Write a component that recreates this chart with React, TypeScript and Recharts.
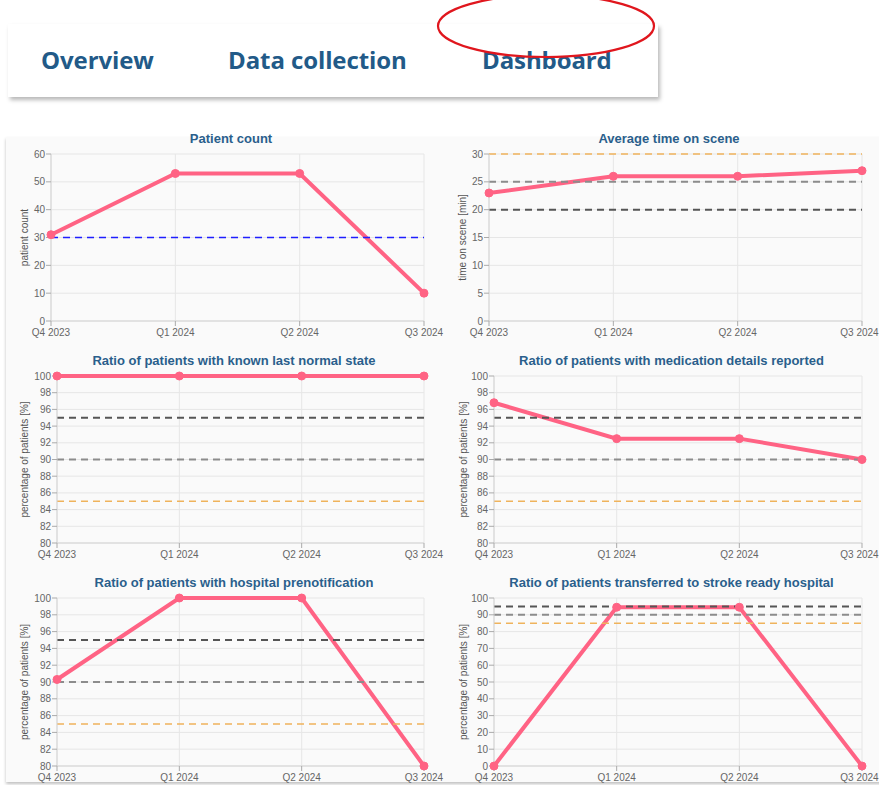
import React from "react";
import { CartesianGrid, Label, Line, LineChart, ReferenceLine, XAxis, YAxis } from "recharts";

const quarters = ["Q4 2023", "Q1 2024", "Q2 2024", "Q3 2024"];

const patientCount = [31, 53, 53, 10];
const timeOnScene = [23, 26, 26, 27];
const lastNormalState = [100, 100, 100, 100];
const medicationReported = [96.8, 92.5, 92.5, 90];
const prenotification = [90.3, 100, 100, 80];
const strokeReadyTransfer = [0, 94.5, 94.5, 0];

const countTicks = [0, 10, 20, 30, 40, 50, 60];
const minuteTicks = [0, 5, 10, 15, 20, 25, 30];
const narrowRatioTicks = [80, 82, 84, 86, 88, 90, 92, 94, 96, 98, 100];
const wideRatioTicks = [0, 10, 20, 30, 40, 50, 60, 70, 80, 90, 100];

const patientTarget = [30];
const timeTargets = [20, 25, 30];
const ratioTargets = [95, 90, 85];

const navItems = ["Overview", "Data collection", "Dashboard"];

const PAGE_W = 879;
const PINK = "#ff6384";
const TICK = { fontSize: 10, fill: "#666", fontFamily: "Liberation Sans, Arial, sans-serif" };
// dark / grey / orange threshold lines, same order as the target arrays
const targetStyles = [
  { stroke: "#555", strokeWidth: 2 },
  { stroke: "#8c8c8c", strokeWidth: 2 },
  { stroke: "#efb35c", strokeWidth: 1.5 },
];
const blueTarget = { stroke: "#1f1fff", strokeWidth: 1.5 };

type Frame = { x0: number; x1: number; y0: number; y1: number; labelX: number };

type PanelProps = {
  title: string;
  yLabel: string;
  values: number[];
  ticks: number[];
  targets: number[];
  targetLook: { stroke: string; strokeWidth: number }[];
  frame: Frame;
};

const Y_W = 36;
const PAD_L = 56;
const PAD_R = 22;
const PAD_T = 28;
const PAD_B = 26;

function Panel({ title, yLabel, values, ticks, targets, targetLook, frame }: PanelProps) {
  const data = quarters.map((q, i) => ({ quarter: q, value: values[i] }));
  const w = frame.x1 - frame.x0 + PAD_L + PAD_R;
  const h = frame.y1 - frame.y0 + PAD_T + PAD_B;
  const left = frame.x0 - PAD_L;
  const top = frame.y0 - PAD_T;
  const labelOffset = frame.labelX - (frame.x0 - Y_W);

  // keep the last quarter label inside the page on the right column
  const renderXTick = (p: any) => {
    const half = 18.5;
    const room = PAGE_W - 1 - left - (p.x + half);
    const x = room < 0 ? p.x + room : p.x;
    return (
      <text x={x} y={p.y} dy="0.71em" textAnchor="middle" {...TICK}>
        {p.payload.value}
      </text>
    );
  };

  return (
    <>
      <div
        style={{
          position: "absolute",
          left: 0,
          width: 2 * ((frame.x0 + frame.x1) / 2 - 6.5),
          top: frame.y0 - 23,
          textAlign: "center",
          font: "bold 13px 'Liberation Sans', Arial, sans-serif",
          color: "#2a5f8c",
          lineHeight: "16px",
          whiteSpace: "nowrap",
        }}
      >
        {title}
      </div>
      <div style={{ position: "absolute", left, top }}>
        <LineChart
          width={w}
          height={h}
          data={data}
          margin={{ top: PAD_T, right: PAD_R, left: PAD_L - Y_W, bottom: PAD_B - 20 }}
        >
          <CartesianGrid stroke="#e6e6e6" />
          <XAxis
            dataKey="quarter"
            height={20}
            tick={renderXTick}
            tickSize={5}
            tickMargin={3}
            axisLine={{ stroke: "#d4d4d4" }}
            tickLine={{ stroke: "#aaa" }}
            interval={0}
          />
          <YAxis
            width={Y_W}
            domain={[ticks[0], ticks[ticks.length - 1]]}
            ticks={ticks}
            tick={TICK}
            tickSize={5}
            tickMargin={1}
            axisLine={{ stroke: "#d4d4d4" }}
            tickLine={{ stroke: "#aaa" }}
            interval={0}
          >
            <Label
              content={(props: any) => {
                const vb = props.viewBox || { x: 0, y: 0, height: 0 };
                const x = vb.x + labelOffset;
                const y = vb.y + vb.height / 2;
                return (
                  <text
                    x={x}
                    y={y}
                    transform={`rotate(-90, ${x}, ${y})`}
                    textAnchor="middle"
                    dominantBaseline="central"
                    fontSize={10}
                    fill="#555"
                    fontFamily="Liberation Sans, Arial, sans-serif"
                  >
                    {yLabel}
                  </text>
                );
              }}
            />
          </YAxis>
          <Line
            type="linear"
            dataKey="value"
            stroke={PINK}
            strokeWidth={4}
            dot={{ r: 4, fill: PINK, stroke: PINK, strokeWidth: 1 }}
            isAnimationActive={false}
          />
          {targets.map((t, i) => (
            <ReferenceLine
              key={t}
              y={t}
              stroke={targetLook[i].stroke}
              strokeWidth={targetLook[i].strokeWidth}
              strokeDasharray="7 5"
            />
          ))}
        </LineChart>
      </div>
    </>
  );
}

export default function App() {
  const navLeft = [41, 228, 482];
  return (
    <div style={{ position: "absolute", left: 0, top: 0, width: PAGE_W, height: 785, background: "#fff", overflow: "hidden" }}>
      <div
        style={{
          position: "absolute",
          left: 8,
          top: 24,
          width: 650,
          height: 73,
          background: "#fff",
          boxShadow: "2px 3px 4px rgba(0,0,0,0.28)",
        }}
      />
      {navItems.map((n, i) => (
        <div
          key={n}
          style={{
            position: "absolute",
            left: navLeft[i],
            top: 45,
            font: "bold 24px 'Open Sans', sans-serif",
            color: "#225a88",
            lineHeight: "30px",
            whiteSpace: "nowrap",
            letterSpacing: "-0.1px",
          }}
        >
          {n}
        </div>
      ))}
      <svg style={{ position: "absolute", left: 0, top: 0 }} width={PAGE_W} height={120}>
        <ellipse cx={546} cy={26} rx={108} ry={31} fill="none" stroke="#e0161d" strokeWidth={2.2} />
      </svg>

      <div
        style={{
          position: "absolute",
          left: 6,
          top: 137,
          width: 880,
          height: 645,
          background: "#fafafa",
          boxShadow: "0 2px 3px rgba(0,0,0,0.25)",
        }}
      />

      <Panel
        title="Patient count"
        yLabel="patient count"
        values={patientCount}
        ticks={countTicks}
        targets={patientTarget}
        targetLook={[blueTarget]}
        frame={{ x0: 51, x1: 424, y0: 154, y1: 321, labelX: 24 }}
      />
      <Panel
        title="Average time on scene"
        yLabel="time on scene [min]"
        values={timeOnScene}
        ticks={minuteTicks}
        targets={timeTargets}
        targetLook={targetStyles}
        frame={{ x0: 489, x1: 862, y0: 154, y1: 321, labelX: 462 }}
      />
      <Panel
        title="Ratio of patients with known last normal state"
        yLabel="percentage of patients [%]"
        values={lastNormalState}
        ticks={narrowRatioTicks}
        targets={ratioTargets}
        targetLook={targetStyles}
        frame={{ x0: 57, x1: 424, y0: 376, y1: 543, labelX: 24 }}
      />
      <Panel
        title="Ratio of patients with medication details reported"
        yLabel="percentage of patients [%]"
        values={medicationReported}
        ticks={narrowRatioTicks}
        targets={ratioTargets}
        targetLook={targetStyles}
        frame={{ x0: 494, x1: 862, y0: 376, y1: 543, labelX: 463 }}
      />
      <Panel
        title="Ratio of patients with hospital prenotification"
        yLabel="percentage of patients [%]"
        values={prenotification}
        ticks={narrowRatioTicks}
        targets={ratioTargets}
        targetLook={targetStyles}
        frame={{ x0: 57, x1: 424, y0: 598, y1: 766, labelX: 24 }}
      />
      <Panel
        title="Ratio of patients transferred to stroke ready hospital"
        yLabel="percentage of patients [%]"
        values={strokeReadyTransfer}
        ticks={wideRatioTicks}
        targets={ratioTargets}
        targetLook={targetStyles}
        frame={{ x0: 494, x1: 862, y0: 598, y1: 766, labelX: 463 }}
      />
    </div>
  );
}
